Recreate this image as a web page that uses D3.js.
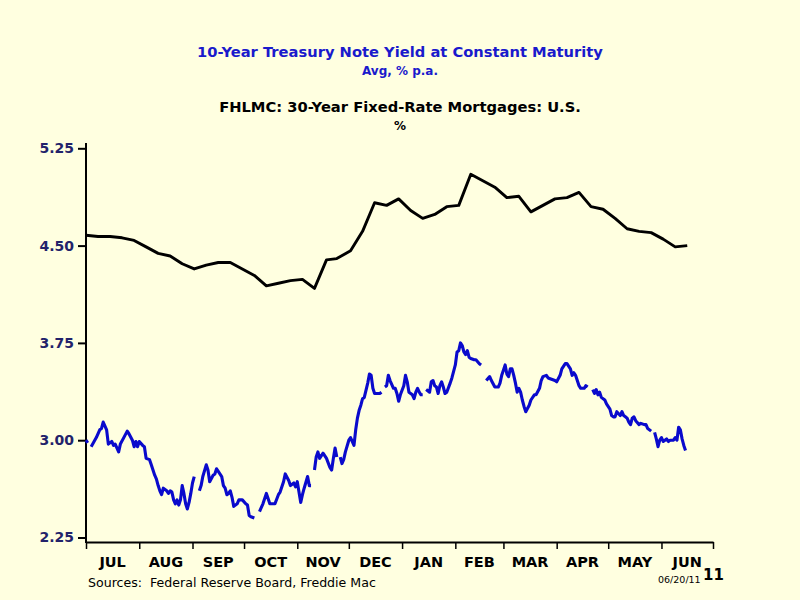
<!DOCTYPE html>
<html><head><meta charset="utf-8">
<script src="https://cdn.jsdelivr.net/npm/d3@7/dist/d3.min.js"></script>
<style>
html,body{margin:0;padding:0;background:#ffffe0;}
svg{display:block;}
text{font-family:"DejaVu Sans",sans-serif;}
</style></head>
<body>
<svg id="chart" width="800" height="600"></svg>
<script>
// ---- data ----
const startDate = "2010-07-01";
const monthLabels = ["JUL","AUG","SEP","OCT","NOV","DEC","JAN","FEB","MAR","APR","MAY","JUN"];
const yTicks = [2.25, 3.00, 3.75, 4.50, 5.25];

// FHLMC 30-year fixed mortgage rate, weekly (days after start)
const mtgDays = [0,7,14,21,28,35,42,49,56,63,70,77,84,91,98,105,112,119,126,133,140,146,154,161,168,175,182,189,196,203,210,217,224,231,238,245,252,259,266,273,280,287,294,301,308,315,322,329,336,343,350];
const mtgVals = [4.58,4.57,4.57,4.56,4.54,4.49,4.44,4.42,4.36,4.32,4.35,4.37,4.37,4.32,4.27,4.19,4.21,4.23,4.24,4.17,4.39,4.40,4.46,4.61,4.83,4.81,4.86,4.77,4.71,4.74,4.80,4.81,5.05,5.00,4.95,4.87,4.88,4.76,4.81,4.86,4.87,4.91,4.80,4.78,4.71,4.63,4.61,4.60,4.55,4.49,4.50];

// 10-year Treasury yield, daily (days after start; null = market holiday)
const tsyDays = [0,1,2,3,6,8,9,10,12,13,15,16,17,19,20,22,24,25,27,28,29,30,31,33,34,35,37,38,40,41,42,43,44,45,47,48,49,50,51,52,53,54,55,56,57,58,59,60,61,62,63,64,
66,67,68,70,71,72,74,75,76,77,79,80,81,82,83,84,85,86,88,89,91,93,94,95,96,98,99,
101,103,105,106,107,110,112,113,115,116,118,119,121,122,123,125,126,127,129,130,131,132,
133,134,135,136,138,140,142,143,144,145,146,147,
148,149,150,151,153,154,156,157,158,159,160,161,162,164,165,166,167,168,171,172,173,
174,175,176,177,179,180,181,182,183,185,186,187,188,190,191,192,193,194,195,196,197,
198,200,201,202,203,204,205,206,207,208,209,210,212,213,214,215,216,217,218,219,220,221,222,223,224,226,227,229,230,231,
233,235,236,238,240,241,242,243,244,245,246,247,248,249,250,251,252,253,254,255,256,258,259,261,262,264,265,266,268,269,271,273,274,276,277,279,280,282,283,284,285,286,287,288,290,291,292,293,
295,296,297,298,299,300,302,303,305,306,307,308,309,311,312,313,314,315,316,317,318,319,320,322,323,325,326,327,329,330,
331,332,333,334,335,336,337,338,339,340,342,343,344,345,346,347,348,349];
const tsyVals = [3.00,2.98,null,2.95,3.02,3.08,3.09,3.14,3.08,2.97,2.99,2.96,2.97,2.91,2.97,3.02,3.07,3.05,3.00,2.95,2.99,2.95,2.99,2.96,2.95,2.86,2.85,2.81,2.73,2.70,2.65,2.61,2.58,2.63,2.61,2.59,2.61,2.60,2.54,2.51,2.54,2.50,2.54,2.65,2.59,2.51,2.47,2.52,2.59,2.67,2.72,null,
2.61,2.65,2.72,2.81,2.77,2.68,2.73,2.74,2.78,2.76,2.72,2.65,2.63,2.58,2.59,2.61,2.56,2.49,2.51,2.54,2.54,2.51,2.50,2.42,2.41,2.40,null,
2.45,2.51,2.59,2.55,2.51,2.51,2.58,2.60,2.68,2.74,2.69,2.65,2.67,2.64,2.68,2.52,2.58,2.63,2.72,2.65,2.65,null,
2.77,2.87,2.91,2.86,2.90,2.86,2.79,2.77,2.86,2.94,2.87,null,
2.87,2.82,2.85,2.91,3.00,3.02,2.96,3.08,3.17,3.23,3.27,3.32,3.33,3.44,3.51,3.50,3.40,3.36,3.36,3.37,null,
3.41,3.42,3.50,3.46,3.40,3.40,3.36,3.30,3.35,3.42,3.50,3.45,3.37,3.35,3.32,3.37,3.40,3.37,3.35,3.35,null,
3.39,3.37,3.45,3.46,3.42,3.41,3.36,3.42,3.45,3.41,3.36,3.37,3.44,3.48,3.53,3.58,3.68,3.69,3.75,3.73,3.68,3.66,3.69,3.64,3.63,3.62,3.62,3.59,3.58,null,
3.46,3.49,3.46,3.41,3.41,3.44,3.50,3.54,3.58,3.51,3.49,3.55,3.55,3.50,3.44,3.37,3.40,3.37,3.31,3.26,3.22,3.27,3.31,3.35,3.35,3.40,3.46,3.49,3.50,3.48,3.47,3.46,3.45,3.50,3.55,3.59,3.59,3.55,3.50,3.52,3.50,3.46,3.42,3.40,3.40,3.42,3.41,null,
3.39,3.36,3.39,3.35,3.37,3.33,3.31,3.28,3.24,3.19,3.18,3.18,3.22,3.19,3.22,3.19,3.18,3.17,3.14,3.12,3.17,3.18,3.15,3.12,3.13,3.12,3.12,3.09,3.07,null,
3.06,3.01,2.95,3.00,3.02,2.99,3.00,3.01,2.99,3.00,3.00,3.02,3.00,3.10,3.08,3.01,2.96,2.92];

// ---- chart ----
const svg = d3.select("#chart");
const parse = d3.timeParse("%Y-%m-%d");
const t0 = parse(startDate);
const t1 = d3.timeYear.offset(t0, 1);

const x = d3.scaleTime().domain([t0, t1]).range([86, 713]);
const y = d3.scaleLinear().domain([2.25, 5.25]).range([537.5, 148.3]);

const mtg = mtgDays.map((d,i)=>({date:d3.timeDay.offset(t0,d), v:mtgVals[i]}));
const tsy = tsyDays.map((d,i)=>({date:d3.timeDay.offset(t0,d), v:tsyVals[i]}));

const line = d3.line().defined(d=>d.v!=null).x(d=>x(d.date)).y(d=>y(d.v));

// titles
const titles = [
  {t:"10-Year Treasury Note Yield at Constant Maturity", y:57, size:14.7, c:"#1a1acc"},
  {t:"Avg, % p.a.", y:75, size:12, c:"#1a1acc"},
  {t:"FHLMC: 30-Year Fixed-Rate Mortgages: U.S.", y:112, size:14.7, c:"#000"},
  {t:"%", y:130, size:12, c:"#000"}
];
svg.selectAll("text.title").data(titles).enter().append("text")
  .attr("class","title").attr("x",400).attr("y",d=>d.y)
  .attr("text-anchor","middle").attr("font-weight","bold")
  .attr("font-size",d=>d.size).attr("fill",d=>d.c).text(d=>d.t);

// y axis
const yAxis = svg.append("g").attr("transform","translate(86,0)")
  .call(d3.axisLeft(y).tickValues(yTicks).tickFormat(d3.format(".2f")).tickSize(8).tickSizeOuter(0).tickPadding(4));
yAxis.select(".domain").remove();
yAxis.selectAll(".tick line").attr("stroke","#000").attr("stroke-width",2);
yAxis.selectAll(".tick text").attr("font-size",14).attr("font-weight","bold").attr("fill","#22226a")
  .style("font-family","'DejaVu Sans',sans-serif");
svg.append("line").attr("x1",86).attr("x2",86).attr("y1",143).attr("y2",543)
  .attr("stroke","#000").attr("stroke-width",2);

// x axis
const xAxis = svg.append("g").attr("transform","translate(0,542)")
  .call(d3.axisBottom(x).ticks(d3.timeMonth.every(1)).tickFormat("").tickSize(7).tickSizeOuter(0));
xAxis.select(".domain").attr("stroke","#000").attr("stroke-width",2);
xAxis.selectAll(".tick line").attr("stroke","#000").attr("stroke-width",1.5);

const months = d3.timeMonth.range(t0, t1);
svg.selectAll("text.mon").data(months).enter().append("text").attr("class","mon")
  .attr("x",d=>(x(d)+x(d3.timeMonth.offset(d,1)))/2).attr("y",567)
  .attr("text-anchor","middle").attr("font-weight","bold").attr("font-size",14.5)
  .attr("fill","#000").text((d,i)=>monthLabels[i]);

// lines
svg.append("path").datum(mtg).attr("d",line).attr("fill","none")
  .attr("stroke","#000").attr("stroke-width",2.9).attr("stroke-linejoin","round");
svg.append("path").datum(tsy).attr("d",line).attr("fill","none")
  .attr("stroke","#0a0acc").attr("stroke-width",3.1).attr("stroke-linejoin","round");

// footer
svg.append("text").attr("x",88).attr("y",587).attr("font-size",12.6).attr("fill","#000")
  .style("white-space","pre").text("Sources:  Federal Reserve Board, Freddie Mac");
svg.append("text").attr("x",658).attr("y",583).attr("font-size",9.5).attr("fill","#000").text("06/20/11");
svg.append("text").attr("x",703).attr("y",580).attr("font-size",15).attr("font-weight","bold").attr("fill","#000").text("11");
</script>
</body></html>
